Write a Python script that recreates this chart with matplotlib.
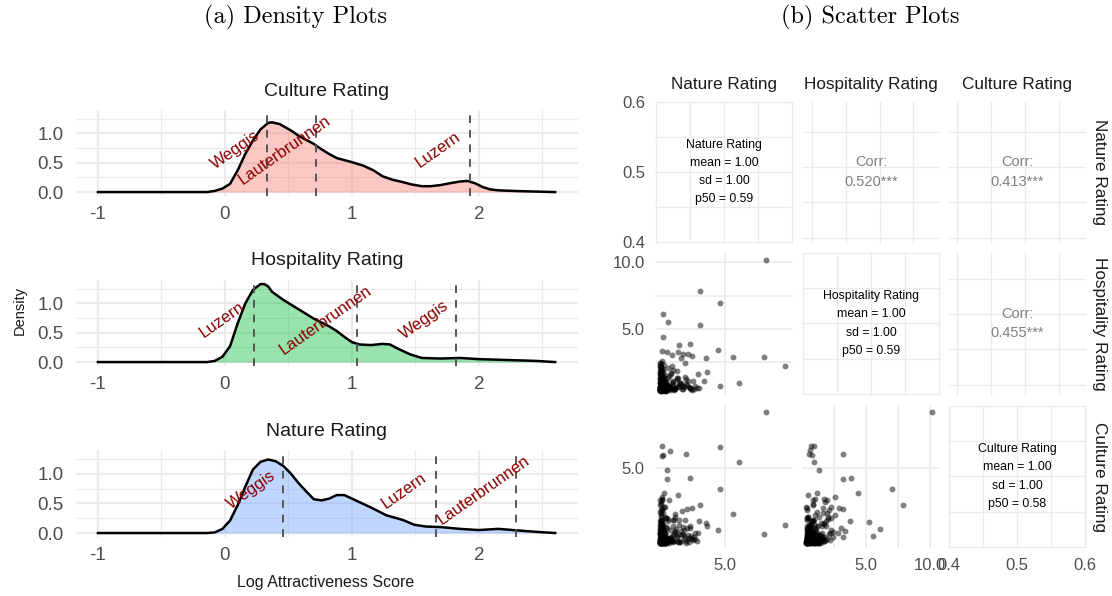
import matplotlib.pyplot as plt

plt.rcParams['font.family'] = ['Liberation Sans', 'DejaVu Sans']

W, H = 1112, 596
fig = plt.figure(figsize=(W / 100, H / 100), dpi=100)

GRID = '#EBEBEB'
TICK = '#4D4D4D'

# ---------------- density data ----------------
cul_x = [-1.0, -0.5, -0.14, -0.08, -0.02, 0.04, 0.10, 0.16, 0.22, 0.28, 0.34, 0.37, 0.43,
         0.52, 0.58, 0.64, 0.70, 0.76, 0.82, 0.88, 1.00, 1.09, 1.17, 1.24, 1.32, 1.40,
         1.47, 1.55, 1.62, 1.70, 1.77, 1.85, 1.91, 1.97, 2.03, 2.09, 2.15, 2.30, 2.60]
cul_y = [0.0, 0.0, 0.0, 0.02, 0.06, 0.14, 0.37, 0.65, 0.88, 1.07, 1.18, 1.19, 1.16,
         1.05, 0.96, 0.89, 0.82, 0.73, 0.65, 0.58, 0.51, 0.45, 0.37, 0.27, 0.21, 0.17,
         0.13, 0.10, 0.10, 0.12, 0.15, 0.18, 0.19, 0.15, 0.085, 0.045, 0.03, 0.017, 0.0]

hos_x = [-1.0, -0.5, -0.14, -0.08, -0.02, 0.04, 0.10, 0.16, 0.22, 0.28, 0.31, 0.34, 0.37,
         0.46, 0.58, 0.70, 0.82, 0.88, 0.94, 1.00, 1.06, 1.15, 1.24, 1.30, 1.36, 1.46,
         1.55, 1.70, 1.85, 2.00, 2.15, 2.45, 2.60]
hos_y = [0.0, 0.0, 0.0, 0.02, 0.09, 0.27, 0.66, 1.00, 1.23, 1.33, 1.33, 1.29, 1.20,
         1.06, 0.90, 0.74, 0.61, 0.53, 0.43, 0.34, 0.30, 0.29, 0.31, 0.30, 0.23, 0.13,
         0.07, 0.06, 0.07, 0.05, 0.04, 0.02, 0.0]

nat_x = [-1.0, -0.5, -0.14, -0.08, -0.02, 0.04, 0.10, 0.16, 0.22, 0.28, 0.34, 0.40, 0.46,
         0.52, 0.58, 0.64, 0.70, 0.76, 0.82, 0.88, 0.94, 1.03, 1.15, 1.27, 1.40, 1.49,
         1.58, 1.70, 1.85, 2.00, 2.15, 2.27, 2.45, 2.60]
nat_y = [0.0, 0.0, 0.0, 0.01, 0.07, 0.21, 0.47, 0.78, 1.07, 1.20, 1.24, 1.21, 1.13,
         1.00, 0.84, 0.70, 0.57, 0.55, 0.58, 0.64, 0.64, 0.55, 0.43, 0.30, 0.22, 0.14,
         0.11, 0.10, 0.07, 0.05, 0.07, 0.05, 0.02, 0.0]

cul_towns = ['Weggis', 'Lauterbrunnen', 'Luzern']
cul_marks = [0.33, 0.716, 1.93]
hos_towns = ['Luzern', 'Lauterbrunnen', 'Weggis']
hos_marks = [0.23, 1.04, 1.82]
nat_towns = ['Weggis', 'Luzern', 'Lauterbrunnen']
nat_marks = [0.46, 1.66, 2.29]

# ---------------- scatter data ----------------
# low-valued observations shared by all pairs (nature, hospitality, culture)
low_nat = [0.32, 0.35, 0.38, 0.41, 0.44, 0.47, 0.50, 0.55, 0.60, 0.66,
           0.33, 0.36, 0.40, 0.45, 0.52, 0.58, 0.64, 0.72, 0.80, 0.90,
           0.34, 0.39, 0.46, 0.54, 0.62, 0.75, 0.88, 1.00, 1.15, 1.30,
           0.35, 0.43, 0.56, 0.70, 0.85, 1.05, 1.25, 1.45, 1.70, 2.00,
           0.37, 0.50, 0.68, 0.95, 1.20, 1.50, 1.80, 2.20, 2.50, 0.31,
           0.42, 0.61, 0.84, 1.10, 1.38, 0.33, 0.37, 0.46, 0.53, 0.30,
           0.30, 0.31, 0.32, 0.33, 0.34, 0.35, 0.36, 0.37, 0.38, 0.39,
           0.40, 0.42, 0.44, 0.46, 0.48, 0.50, 0.52, 0.55, 0.58, 0.62,
           0.30, 0.32, 0.34, 0.36, 0.38, 0.40, 0.43, 0.47, 0.51, 0.56,
           0.31, 0.33, 0.35, 0.37, 0.39, 0.41, 0.45, 0.49, 0.54, 0.60,
           0.65, 0.70, 0.76, 0.82, 0.90, 0.98, 1.08, 1.20, 0.30, 0.34]
low_hos = [0.40, 0.55, 0.70, 0.45, 0.90, 0.60, 1.10, 0.42, 0.75, 0.50,
           1.30, 1.60, 1.90, 1.20, 0.95, 0.65, 0.48, 0.85, 0.55, 0.70,
           2.10, 2.40, 1.50, 1.75, 1.05, 0.40, 1.30, 0.60, 0.90, 0.45,
           0.85, 1.00, 1.40, 1.10, 0.80, 0.70, 1.10, 0.60, 0.95, 0.70,
           1.75, 2.00, 1.55, 1.45, 1.90, 1.30, 0.80, 1.20, 0.55, 0.45,
           2.60, 2.30, 2.05, 1.65, 0.50, 0.38, 0.36, 0.52, 0.39, 1.00,
           0.38, 0.50, 0.62, 0.75, 0.88, 1.00, 1.15, 1.30, 1.45, 1.60,
           0.40, 0.55, 0.68, 0.82, 0.95, 1.10, 0.45, 0.60, 0.42, 0.52,
           1.75, 1.20, 0.48, 0.92, 0.70, 1.35, 0.58, 0.78, 0.44, 0.66,
           0.90, 0.40, 1.05, 0.56, 2.00, 0.72, 0.85, 0.50, 0.62, 0.46,
           0.40, 0.58, 0.75, 0.48, 0.64, 0.42, 0.55, 0.48, 2.20, 1.85]
low_cul = [0.45, 0.60, 0.40, 0.80, 0.55, 1.00, 0.70, 1.20, 0.50, 0.90,
           1.40, 0.65, 1.70, 0.42, 1.10, 0.75, 2.00, 0.60, 1.30, 0.48,
           2.40, 1.05, 0.85, 1.55, 0.40, 1.90, 0.70, 1.15, 0.55, 0.95,
           2.80, 3.10, 0.50, 1.35, 1.75, 0.62, 0.88, 1.25, 0.45, 0.78,
           1.60, 2.20, 1.00, 0.58, 1.45, 0.80, 1.10, 0.52, 0.68, 0.38,
           3.20, 2.60, 1.85, 0.72, 1.05, 0.44, 0.41, 0.95, 0.66, 1.50,
           0.42, 1.20, 0.55, 1.60, 0.68, 2.10, 0.80, 0.95, 0.40, 1.40,
           2.50, 0.60, 1.10, 0.45, 0.85, 0.50, 1.30, 0.72, 0.58, 0.98,
           0.48, 2.30, 0.62, 1.80, 0.90, 0.40, 1.50, 0.66, 1.05, 0.52,
           2.70, 0.75, 0.44, 1.25, 0.60, 1.70, 0.50, 0.82, 0.42, 0.64,
           0.46, 0.40, 0.55, 0.70, 0.44, 0.60, 0.48, 0.52, 1.00, 2.90]

# densest corner of the point cloud
core_nat = [0.30, 0.31, 0.32, 0.33, 0.34, 0.35, 0.36, 0.37, 0.38, 0.40,
            0.30, 0.31, 0.32, 0.33, 0.34, 0.35, 0.36, 0.37, 0.38, 0.40,
            0.42, 0.44, 0.46, 0.48, 0.50, 0.52, 0.54, 0.57, 0.60, 0.63,
            0.42, 0.44, 0.46, 0.48, 0.50, 0.52, 0.54, 0.57, 0.60, 0.63,
            0.30, 0.32, 0.34, 0.36, 0.38, 0.41, 0.45, 0.49, 0.53, 0.58,
            0.66, 0.70, 0.74, 0.78, 0.83, 0.88, 0.93, 0.30, 0.31, 0.33,
            0.30, 0.32, 0.35, 0.38, 0.42, 0.47, 0.52, 0.58, 0.64, 0.70,
            0.31, 0.34, 0.37, 0.40, 0.44, 0.48, 0.53, 0.59, 0.66, 0.74,
            0.30, 0.33, 0.36, 0.39, 0.43, 0.47, 0.51, 0.56, 0.61, 0.67,
            0.32, 0.35, 0.39, 0.43, 0.48, 0.55, 0.62, 0.70, 0.80, 0.30]
core_hos = [0.36, 0.48, 0.60, 0.72, 0.84, 0.96, 1.08, 1.20, 1.32, 1.44,
            0.42, 0.54, 0.66, 0.78, 0.90, 1.02, 1.14, 1.26, 1.38, 0.38,
            0.36, 0.50, 0.64, 0.78, 0.92, 1.06, 0.44, 0.58, 0.72, 0.40,
            0.86, 1.00, 0.46, 0.60, 0.38, 0.70, 0.52, 0.40, 0.48, 0.62,
            1.55, 1.70, 1.85, 1.50, 1.62, 0.45, 0.55, 0.65, 0.42, 0.50,
            0.38, 0.48, 0.58, 0.40, 0.52, 0.44, 0.60, 2.30, 2.45, 2.10,
            0.40, 0.45, 0.50, 0.55, 0.60, 0.65, 0.70, 0.75, 0.80, 0.85,
            0.90, 0.95, 1.00, 1.05, 1.10, 1.15, 1.20, 1.25, 0.36, 0.42,
            1.30, 1.18, 1.06, 0.94, 0.82, 0.70, 0.58, 0.46, 0.38, 0.44,
            0.56, 0.68, 0.80, 0.92, 1.04, 0.40, 0.50, 0.36, 0.45, 1.95]
core_cul = [0.40, 1.00, 0.55, 1.50, 0.70, 0.45, 1.20, 0.62, 2.00, 0.85,
            0.42, 0.90, 1.35, 0.50, 1.80, 0.65, 1.05, 0.40, 0.75, 2.40,
            0.48, 0.80, 0.40, 1.10, 0.58, 0.42, 1.40, 0.52, 0.70, 0.45,
            0.95, 0.40, 0.60, 0.82, 1.25, 0.50, 0.44, 0.66, 0.40, 0.55,
            0.42, 0.58, 0.75, 1.60, 2.20, 0.40, 0.50, 0.62, 0.44, 0.80,
            0.40, 0.46, 0.55, 0.68, 0.42, 0.50, 0.40, 1.15, 0.72, 0.90,
            0.38, 0.60, 0.44, 0.78, 0.50, 0.96, 0.42, 0.65, 0.40, 0.55,
            1.70, 1.30, 0.88, 0.46, 0.60, 0.40, 0.52, 0.44, 2.60, 1.90,
            0.40, 0.48, 0.58, 0.70, 0.84, 0.42, 0.50, 0.62, 0.40, 0.46,
            1.00, 0.76, 0.56, 0.44, 0.40, 0.52, 0.64, 0.40, 0.48, 3.00]

# middle part of the cloud
mid_nat = [1.05, 1.20, 1.35, 1.50, 1.65, 1.80, 1.95, 2.10, 2.25, 2.40,
           2.55, 2.70, 2.85, 3.00, 1.10, 1.30, 1.55, 1.75, 2.00, 2.30,
           1.15, 1.40, 1.60, 1.90, 2.15, 2.45, 2.75, 1.25, 1.70, 2.60]
mid_hos = [0.45, 0.80, 0.55, 1.20, 0.65, 0.95, 0.50, 1.40, 0.75, 0.60,
           0.48, 1.05, 0.70, 0.55, 1.60, 0.42, 1.85, 0.90, 0.62, 1.10,
           2.20, 0.52, 1.30, 0.44, 0.85, 0.58, 0.46, 1.00, 0.72, 0.40]
mid_cul = [0.60, 0.45, 1.10, 0.75, 1.50, 0.50, 0.90, 0.62, 1.30, 0.42,
           0.80, 0.55, 1.00, 0.48, 0.70, 1.80, 0.52, 0.44, 1.20, 0.66,
           0.58, 2.00, 0.46, 0.85, 0.40, 1.40, 0.72, 0.50, 0.95, 0.60]

# spread-out points of each pair
nh_x = [7.97, 3.19, 4.64, 0.53, 0.85, 3.19, 0.49, 1.69, 2.49, 0.41, 0.82, 1.14, 1.62, 1.98, 2.30,
        2.59, 1.81, 4.51, 3.62, 5.60, 7.80, 9.37, 2.10, 3.07, 3.67, 3.48, 4.64, 6.04, 3.12]
nh_y = [10.17, 7.84, 6.97, 6.12, 5.55, 5.30, 4.37, 3.80, 3.87, 3.30, 3.23, 3.05, 3.25, 3.10, 3.10,
        2.93, 2.80, 3.38, 2.80, 2.85, 2.90, 2.23, 2.40, 1.60, 1.73, 1.10, 0.68, 0.93, 0.55]

nc_x = [7.97, 0.41, 0.49, 0.45, 1.01, 2.17, 4.64, 6.04, 0.82, 0.82, 2.49, 4.64, 0.58, 1.57, 0.41,
        0.94, 3.21, 2.59, 2.27, 1.91, 5.60, 9.37, 7.83, 4.51, 3.14, 3.62, 3.67, 3.07, 1.38, 1.69,
        2.08, 1.25, 2.46, 1.98, 2.83, 2.34]
nc_y = [8.44, 6.35, 5.78, 5.74, 6.04, 5.84, 6.29, 5.37, 4.86, 4.31, 4.35, 3.69, 3.43, 3.31, 3.02,
        3.02, 2.69, 2.55, 2.45, 2.36, 2.18, 1.47, 0.93, 1.18, 1.73, 1.63, 1.42, 1.01, 2.16, 1.79,
        1.79, 1.79, 1.28, 1.38, 0.61, 0.87]

hc_x = [10.18, 0.75, 0.96, 0.63, 0.57, 0.80, 0.94, 3.23, 1.35, 3.23, 3.88, 4.40, 7.00, 7.86, 1.22,
        1.74, 0.49, 0.88, 2.91, 3.23, 2.58, 2.31, 3.80, 5.26, 6.14, 5.52, 3.09, 3.36, 2.84, 3.23,
        1.66, 2.05]
hc_y = [8.44, 6.35, 6.35, 6.09, 5.82, 5.78, 5.37, 5.84, 4.86, 4.31, 4.35, 3.43, 3.69, 2.69, 3.43,
        3.06, 3.32, 3.02, 2.55, 2.45, 2.10, 1.90, 1.75, 1.69, 1.24, 0.81, 1.28, 1.13, 1.01, 0.77,
        2.51, 1.96]

var_names = ['Nature Rating', 'Hospitality Rating', 'Culture Rating']
var_p50 = ['0.59', '0.59', '0.58']
corr_vals = ['0.520***', '0.413***', '0.455***']

nat_all = low_nat + core_nat + mid_nat
hos_all = low_hos + core_hos + mid_hos
cul_all = low_cul + core_cul + mid_cul


def px_axes(l, t, r, b):
    ax = fig.add_axes([l / W, 1 - b / H, (r - l) / W, (b - t) / H])
    for s in ax.spines.values():
        s.set_visible(False)
    ax.tick_params(length=0)
    ax.set_xticks([])
    ax.set_yticks([])
    ax.patch.set_alpha(0)
    return ax


def ftext(x, y, s, **kw):
    fig.text(x / W, 1 - y / H, s, **kw)


# ---------------- (a) density plots ----------------
def density(box, title, xs, ys, colour, towns, marks):
    ax = px_axes(*box)
    ax.set_xlim(-1.173, 2.78)
    ax.set_ylim(-0.067, 1.40)
    for v in [-0.5, 0.5, 1.5, 2.5]:
        ax.axvline(v, color=GRID, lw=0.9, zorder=0)
    for v in [-1, 0, 1, 2]:
        ax.axvline(v, color=GRID, lw=1.6, zorder=0)
    for v in [0.25, 0.75, 1.25]:
        ax.axhline(v, color=GRID, lw=0.9, zorder=0)
    for v in [0, 0.5, 1.0]:
        ax.axhline(v, color=GRID, lw=1.6, zorder=0)
    ax.fill_between(xs, ys, 0, color=colour, alpha=0.4, lw=0, zorder=1)
    ax.plot(xs, ys, color='black', lw=1.8, zorder=2)
    for town, m in zip(towns, marks):
        ax.axvline(m, color='#555555', lw=1.4, ls=(0, (4, 3.5)), zorder=3)
        ax.text(m - 0.25, 0.72, town, rotation=35, rotation_mode='anchor',
                ha='center', va='center', color='#8B0000', fontsize=12, zorder=4)
    ax.set_xticks([-1, 0, 1, 2], ['-1', '0', '1', '2'])
    ax.set_yticks([0, 0.5, 1.0], ['0.0', '0.5', '1.0'])
    ax.tick_params(labelsize=13.5, labelcolor=TICK)
    ax.tick_params(axis='x', pad=7)
    ax.tick_params(axis='y', pad=9)
    ftext((box[0] + box[2]) / 2, box[1] - 19, title, ha='center', va='center',
          fontsize=14, color='#1A1A1A')
    return ax


density((76, 110, 578, 196), 'Culture Rating', cul_x, cul_y, '#F8766D', cul_towns, cul_marks)
density((76, 280, 578, 366), 'Hospitality Rating', hos_x, hos_y, '#00BA38', hos_towns, hos_marks)
density((76, 450, 578, 537), 'Nature Rating', nat_x, nat_y, '#619CFF', nat_towns, nat_marks)

ftext(326, 582, 'Log Attractiveness Score', ha='center', va='center', fontsize=11.5, color='#1A1A1A')
ftext(20, 310, 'Density', ha='center', va='center', rotation=90, fontsize=10.5, color='#1A1A1A')

# ---------------- (b) scatter matrix ----------------
cols = [(656, 792), (803, 939), (949, 1085)]
rows = [(102, 242), (253, 394), (406, 547)]
nat_lim = (0.0, 9.86)
hos_lim = (0.10, 10.70)
cul_lim = (0.13, 8.79)

axs = {}
for i, (t, b) in enumerate(rows):
    for j, (l, r) in enumerate(cols):
        axs[i, j] = px_axes(l, t, r, b)


def grid_lines(ax, xv, yv, lw=1.2):
    for v in xv:
        ax.axvline(v, color=GRID, lw=lw, zorder=0, clip_on=False)
    for v in yv:
        ax.axhline(v, color=GRID, lw=lw, zorder=0, clip_on=False)


def scatter(ax, x, y, xlim, ylim, xg, yg):
    ax.set_xlim(*xlim)
    ax.set_ylim(*ylim)
    grid_lines(ax, xg, yg)
    ax.scatter(x, y, s=18, c='black', alpha=0.5, lw=0, zorder=2)


scatter(axs[1, 0], nat_all + nh_x, hos_all + nh_y, nat_lim, hos_lim, [5], [2.5, 5, 7.5, 10])
scatter(axs[2, 0], nat_all + nc_x, cul_all + nc_y, nat_lim, cul_lim, [5], [5])
scatter(axs[2, 1], hos_all + hc_x, cul_all + hc_y, hos_lim, cul_lim, [2.5, 5, 7.5, 10], [5])

# diagonal: summary text
for k in range(3):
    ax = axs[k, k]
    ax.set_xlim(0.4, 0.6)
    ax.set_ylim(0.4, 0.6)
    grid_lines(ax, [0.4, 0.45, 0.5, 0.55, 0.6], [0.4, 0.45, 0.5, 0.55, 0.6], lw=1.0)
    lines = [var_names[k], 'mean = 1.00', 'sd = 1.00', 'p50 = ' + var_p50[k]]
    for n, s in enumerate(lines):
        ax.text(0.5, 0.693 - n * 0.129, s, transform=ax.transAxes, ha='center',
                va='center', fontsize=8.8, color='black')

# upper: correlations
upper_x = {(0, 1): [0.068, 0.314, 0.566, 0.811], (0, 2): [0.057, 0.307, 0.559, 0.811],
           (1, 2): [0.057, 0.307, 0.559, 0.811]}
upper_y = {(0, 1): [0.788, 0.538, 0.288, 0.026], (0, 2): [0.788, 0.538, 0.288, 0.026],
           (1, 2): [0.813, 0.567, 0.317, 0.064]}
for key, val in zip([(0, 1), (0, 2), (1, 2)], corr_vals):
    ax = axs[key]
    ax.set_xlim(0, 1)
    ax.set_ylim(0, 1)
    grid_lines(ax, upper_x[key], upper_y[key], lw=1.0)
    ax.text(0.5, 0.57, 'Corr:', ha='center', va='center', fontsize=10.5, color='#808080')
    ax.text(0.5, 0.43, val, ha='center', va='center', fontsize=10.5, color='#808080')

# axis tick labels
sc_tick = dict(labelsize=12, labelcolor=TICK)
axs[0, 0].set_yticks([0.4, 0.5, 0.6], ['0.4', '0.5', '0.6'])
axs[1, 0].set_yticks([5, 10], ['5.0', '10.0'])
axs[2, 0].set_yticks([5], ['5.0'])
axs[2, 0].set_xticks([5], ['5.0'])
axs[2, 1].set_xticks([5, 10], ['5.0', '10.0'])
axs[2, 2].set_xticks([0.4, 0.5, 0.6], ['0.4', '0.5', '0.6'])
for ax in axs.values():
    ax.tick_params(axis='y', pad=8, **sc_tick)
    ax.tick_params(axis='x', pad=8, **sc_tick)

# strip labels
for j, (l, r) in enumerate(cols):
    ftext((l + r) / 2, 84, var_names[j], ha='center', va='center', fontsize=12.3, color='#1A1A1A')
for i, (t, b) in enumerate(rows):
    ftext(1100, (t + b) / 2, var_names[i], ha='center', va='center', rotation=-90,
          fontsize=12.3, color='#1A1A1A')

# panel captions
ftext(295, 17, '(a) Density Plots', ha='center', va='center', family='cmr10', fontsize=17.5)
ftext(870, 17, '(b) Scatter Plots', ha='center', va='center', family='cmr10', fontsize=17.5)

fig.savefig('out.png', dpi=100)
